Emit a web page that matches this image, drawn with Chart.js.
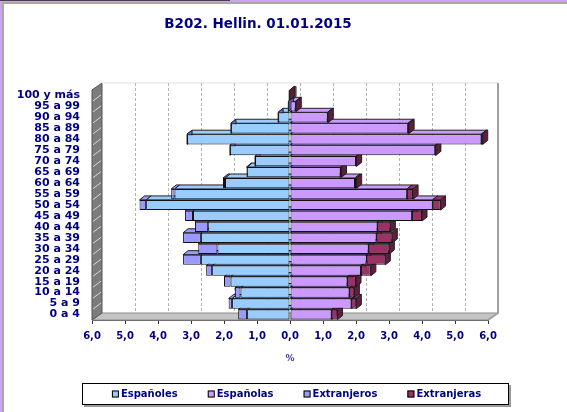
<!DOCTYPE html>
<html>
<head>
<meta charset="utf-8">
<script src="https://cdn.jsdelivr.net/npm/chart.js@4.4.0/dist/chart.umd.min.js"></script>
<style>
  html, body { margin: 0; padding: 0; background: #fff; }
</style>
</head>
<body>
<canvas id="piramide" width="567" height="412"></canvas>
<script>
// Grupos de edad, de abajo arriba
const grupos = ['0 a 4', '5 a 9', '10 a 14', '15 a 19', '20 a 24', '25 a 29', '30 a 34',
  '35 a 39', '40 a 44', '45 a 49', '50 a 54', '55 a 59', '60 a 64', '65 a 69', '70 a 74',
  '75 a 79', '80 a 84', '85 a 89', '90 a 94', '95 a 99', '100 y más'];

// Porcentajes
const espanoles   = [1.30, 1.76, 1.50, 1.80, 2.36, 2.70, 2.20, 2.70, 2.48, 2.94, 4.36, 3.50, 1.97, 1.30, 1.06, 1.82, 3.12, 1.79, 0.36, 0.05, 0.02];
const extranjeros = [0.27, 0.10, 0.17, 0.20, 0.18, 0.54, 0.58, 0.54, 0.40, 0.24, 0.20, 0.10, 0.06, 0.02, 0, 0, 0, 0, 0, 0, 0];
const espanolas   = [1.26, 1.86, 1.80, 1.74, 2.15, 2.32, 2.38, 2.62, 2.65, 3.70, 4.32, 3.55, 1.97, 1.53, 2.00, 4.40, 5.80, 3.58, 1.14, 0.17, 0.03];
const extranjeras = [0.18, 0.15, 0.15, 0.26, 0.30, 0.57, 0.63, 0.48, 0.39, 0.30, 0.24, 0.18, 0.05, 0.03, 0.02, 0.02, 0.04, 0.03, 0.02, 0.02, 0];

const ejeTicks = [-6, -5, -4, -3, -2, -1, 0, 1, 2, 3, 4, 5, 6];

const azulTexto = '#000080';
const fuente = '"DejaVu Sans", sans-serif';

// colores: frente, sombra lateral
const colores = {
  'Españoles':   ['#99ccff', '#6f9fd0'],
  'Españolas':   ['#cc99ff', '#9966cc'],
  'Extranjeros': ['#9999ff', '#6666cc'],
  'Extranjeras': ['#993366', '#5e1f3f']
};

function poligono(ctx, pts, fill, stroke) {
  ctx.beginPath();
  ctx.moveTo(pts[0], pts[1]);
  for (let i = 2; i < pts.length; i += 2) ctx.lineTo(pts[i], pts[i + 1]);
  ctx.closePath();
  if (fill) { ctx.fillStyle = fill; ctx.fill(); }
  if (stroke) { ctx.strokeStyle = stroke; ctx.lineWidth = 1; ctx.stroke(); }
}

// Marco lila del fondo
const marco = {
  id: 'marco',
  afterLayout(chart) {
    // el titulo va algo desplazado a la derecha
    const t = chart.titleBlock;
    if (t) { t.left += 7; t.right += 7; }
  },
  beforeDraw(chart) {
    const { ctx, width, height } = chart;
    ctx.save();
    ctx.fillStyle = '#c9a2f2';
    ctx.fillRect(0, 0, width, height);
    ctx.fillStyle = '#4a3a5a';
    ctx.fillRect(0, 0, 230, 1);
    ctx.fillStyle = '#a8a8a8';
    ctx.fillRect(2, 2, width - 2, height - 2);
    ctx.fillStyle = '#ffffff';
    ctx.fillRect(4, 4, width - 4, height - 4);
    ctx.restore();
  }
};

// Paredes, suelo y caras 3D de las barras
const efecto3d = {
  id: 'efecto3d',
  beforeDatasetsDraw(chart) {
    const { ctx, chartArea: a, scales: { x, y } } = chart;
    const dx = 10, dy = -7;
    ctx.save();
    // suelo
    poligono(ctx, [a.left, a.bottom, a.left + dx, a.bottom + dy, a.right + dx, a.bottom + dy, a.right, a.bottom], '#c4c4c4', '#8a8a8a');
    // pared izquierda
    poligono(ctx, [a.left, a.top, a.left + dx, a.top + dy, a.left + dx, a.bottom + dy, a.left, a.bottom], '#7c7c7c', '#555');
    ctx.strokeStyle = '#d8d8d8';
    ctx.lineWidth = 1;
    const paso = (a.bottom - a.top) / grupos.length;
    for (let i = 1; i < grupos.length; i++) {
      const yy = a.top + i * paso;
      ctx.beginPath();
      ctx.moveTo(a.left + 1, yy);
      ctx.lineTo(a.left + dx - 1, yy + dy + 1);
      ctx.stroke();
    }
    // pared del fondo: borde superior y derecho
    ctx.strokeStyle = '#e0e0e0';
    ctx.beginPath();
    ctx.moveTo(a.left + dx, a.top + dy);
    ctx.lineTo(a.right + dx, a.top + dy);
    ctx.stroke();
    ctx.strokeStyle = '#a0a0a0';
    ctx.lineWidth = 2;
    ctx.beginPath();
    ctx.moveTo(a.right + dx, a.top + dy);
    ctx.lineTo(a.right + dx, a.bottom + dy);
    ctx.lineTo(a.right, a.bottom);
    ctx.stroke();
    // rejilla discontinua
    ctx.lineWidth = 1;
    ctx.strokeStyle = '#b4b4b4';
    ctx.setLineDash([3, 2]);
    ejeTicks.forEach(v => {
      if (Math.abs(v) === 6) return;
      const xx = Math.round(x.getPixelForValue(v) + dx) + 0.5;
      ctx.beginPath();
      ctx.moveTo(xx, a.top + dy);
      ctx.lineTo(xx, a.bottom + dy);
      ctx.stroke();
    });
    ctx.setLineDash([]);

    // caras superiores y laterales de las barras
    const bx = 5, by = -4;
    chart.data.datasets.forEach((ds, i) => {
      const meta = chart.getDatasetMeta(i);
      const [frente, lado] = colores[ds.label];
      meta.data.forEach(el => {
        const p = el.getProps(['x', 'y', 'base', 'height'], true);
        const izq = Math.min(p.x, p.base), der = Math.max(p.x, p.base);
        const top = p.y - p.height / 2, bot = p.y + p.height / 2;
        if (der - izq > 0.5) {
          poligono(ctx, [izq, top, izq + bx, top + by, der + bx, top + by, der, top], frente, '#222');
        }
        if (p.x >= p.base) {
          poligono(ctx, [der, top, der + bx, top + by, der + bx, bot + by, der, bot], lado, '#222');
        }
      });
    });
    ctx.restore();
  }
};

// Leyenda con recuadro
const leyenda = {
  id: 'leyenda',
  afterDraw(chart) {
    const { ctx } = chart;
    const orden = ['Españoles', 'Españolas', 'Extranjeros', 'Extranjeras'];
    const caja = { x: 82, y: 383, w: 427, h: 22 };
    ctx.save();
    ctx.fillStyle = '#9a9a9a';
    ctx.fillRect(caja.x + 2, caja.y + caja.h, caja.w, 2);
    ctx.fillRect(caja.x + caja.w, caja.y + 2, 2, caja.h);
    ctx.fillStyle = '#fff';
    ctx.fillRect(caja.x, caja.y, caja.w, caja.h);
    ctx.strokeStyle = '#000';
    ctx.lineWidth = 1;
    ctx.strokeRect(caja.x + 0.5, caja.y + 0.5, caja.w - 1, caja.h - 1);

    ctx.font = 'bold 10px ' + fuente;
    ctx.textBaseline = 'middle';
    const cuadro = 7, sep = 2, hueco = 30;
    const anchos = orden.map(t => cuadro + sep + ctx.measureText(t).width);
    const total = anchos.reduce((s, w) => s + w, 0) + hueco * (orden.length - 1);
    let cx = caja.x + caja.w / 2 - total / 2 + 1;
    const cy = caja.y + caja.h / 2;
    orden.forEach((t, i) => {
      ctx.fillStyle = colores[t][0];
      ctx.fillRect(cx, cy - cuadro / 2, cuadro, cuadro);
      ctx.strokeStyle = '#000';
      ctx.strokeRect(cx + 0.5, cy - cuadro / 2 + 0.5, cuadro - 1, cuadro - 1);
      ctx.fillStyle = azulTexto;
      ctx.fillText(t, cx + cuadro + sep, cy + 0.5);
      cx += anchos[i] + hueco;
    });
    ctx.restore();
  }
};

function crearPiramide() {
  const ctx = document.getElementById('piramide').getContext('2d');
  const serie = (label, datos, signo) => ({
    label: label,
    data: datos.map(v => signo * v),
    backgroundColor: colores[label][0],
    borderColor: '#111',
    borderWidth: 1,
    borderSkipped: false,
    categoryPercentage: 1,
    barPercentage: 0.93
  });

  new Chart(ctx, {
    type: 'bar',
    data: {
      labels: grupos,
      datasets: [
        serie('Españoles', espanoles, -1),
        serie('Españolas', espanolas, 1),
        serie('Extranjeros', extranjeros, -1),
        serie('Extranjeras', extranjeras, 1)
      ]
    },
    options: {
      indexAxis: 'y',
      responsive: false,
      devicePixelRatio: 1,
      animation: false,
      layout: { padding: { left: 14, right: 79, top: 0, bottom: 44 } },
      plugins: {
        legend: { display: false },
        tooltip: { enabled: false },
        title: {
          display: true,
          text: 'B202. Hellin. 01.01.2015',
          color: azulTexto,
          font: { family: fuente, size: 13.5, weight: 'bold' },
          padding: { top: 16, bottom: 57.8 }
        }
      },
      scales: {
        x: {
          stacked: true,
          min: -6,
          max: 6,
          afterBuildTicks: s => { s.ticks = ejeTicks.map(v => ({ value: v })); },
          afterFit: s => { s.height = 48; },
          grid: { drawOnChartArea: false, tickColor: '#333', tickLength: 4 },
          border: { color: '#555' },
          ticks: {
            color: azulTexto,
            padding: 6,
            font: { family: fuente, size: 10, weight: 'bold' },
            callback: v => Math.abs(v).toFixed(1).replace('.', ',')
          },
          title: {
            display: true,
            text: '%',
            color: '#3a3a9a',
            font: { family: fuente, size: 9, weight: 'bold' },
            padding: { top: 0, bottom: 4 }
          }
        },
        y: {
          stacked: true,
          reverse: true,
          afterFit: s => { s.width = 78; },
          grid: { display: false, drawTicks: false },
          border: { display: false },
          ticks: {
            color: azulTexto,
            padding: 12,
            autoSkip: false,
            font: { family: fuente, size: 11, weight: 'bold' }
          }
        }
      }
    },
    plugins: [marco, efecto3d, leyenda]
  });
}

document.addEventListener('DOMContentLoaded', crearPiramide);
</script>
</body>
</html>
